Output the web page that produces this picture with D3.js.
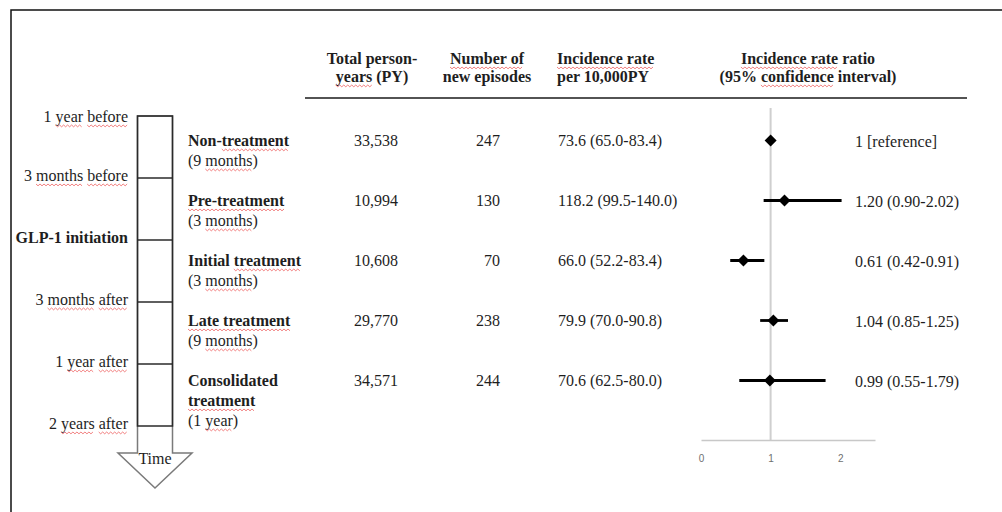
<!DOCTYPE html>
<html>
<head>
<meta charset="utf-8">
<script src="https://cdn.jsdelivr.net/npm/d3@7"></script>
<style>
  html, body { margin: 0; padding: 0; background: #fff; }
  svg { display: block; }
  text { white-space: pre; }
</style>
</head>
<body>
<svg id="chart" width="1002" height="512"></svg>
<script>
// Time points along the follow-up arrow
const timepoints = ["1 year before", "3 months before", "GLP-1 initiation", "3 months after", "1 year after", "2 years after"];
// Exposure periods between consecutive time points
const periods = ["Non-treatment", "Pre-treatment", "Initial treatment", "Late treatment", "Consolidated treatment"];
const durations = ["(9 months)", "(3 months)", "(3 months)", "(9 months)", "(1 year)"];
// Table columns
const personYears = [33538, 10994, 10608, 29770, 34571];
const newEpisodes = [247, 130, 70, 238, 244];
const incidenceRate = [73.6, 118.2, 66.0, 79.9, 70.6];
const incidenceLo = [65.0, 99.5, 52.2, 70.0, 62.5];
const incidenceHi = [83.4, 140.0, 83.4, 90.8, 80.0];
// Incidence rate ratios with 95% CI (first period is the reference)
const irr = [1, 1.20, 0.61, 1.04, 0.99];
const irrLo = [null, 0.90, 0.42, 0.85, 0.55];
const irrHi = [null, 2.02, 0.91, 1.25, 1.79];
const irrTicks = [0, 1, 2];
// Column headings
const headers = [
  ["Total person-", "years (PY)"],
  ["Number of", "new episodes"],
  ["Incidence rate", "per 10,000PY"],
  ["Incidence rate ratio", "(95% confidence interval)"]
];

const serif = "'Liberation Serif', 'Times New Roman', serif";
const ink = "#1e1e1e";
const svg = d3.select("#chart");

svg.append("rect").attr("width", 1002).attr("height", 512).attr("fill", "#fff");

// Outer frame (top and left edges)
svg.append("path")
  .attr("d", "M11,512V10H1002")
  .attr("fill", "none").attr("stroke", "#111").attr("stroke-width", 1.5);

// Words that carry a wavy red underline
const flagged = /(Pre-treatment|Late treatment|Number of|Incidence rate|treatment|months|before|after|years|year|confidence)/;

function squiggle(g, x0, x1, y) {
  let d = `M${x0},${y}`;
  let k = 0;
  for (let x = x0 + 2; x <= x1 + 0.01; x += 2, k++) {
    d += `L${x},${y + (k % 2 ? 0 : 1.8)}`;
  }
  g.append("path").attr("d", d).attr("fill", "none")
    .attr("stroke", "#ef6a6a").attr("stroke-width", 1).attr("opacity", 0.85);
}

function label(g, x, y, str, opts = {}) {
  const t = g.append("text")
    .attr("x", x).attr("y", y)
    .attr("text-anchor", opts.anchor || "start")
    .attr("font-family", serif)
    .attr("font-size", opts.size || 16)
    .attr("font-weight", opts.bold ? "bold" : "normal")
    .attr("fill", ink);
  const marks = [];
  str.split(flagged).forEach((part, i) => {
    if (!part) return;
    const ts = t.append("tspan").text(part);
    if (i % 2 === 1 && !opts.plain) marks.push(ts.node());
  });
  marks.forEach(n => {
    const len = n.getNumberOfChars();
    const x0 = n.getStartPositionOfChar(0).x;
    const x1 = n.getEndPositionOfChar(len - 1).x;
    squiggle(g, x0, x1, y + 3);
  });
  return t;
}

// ---------- Timeline arrow ----------
const tl = svg.append("g");
const yTime = d3.scalePoint().domain(timepoints).range([116, 426]);
const shaftL = 137.5, shaftR = 172.5, shaftEnd = 453, headHalf = 37, apex = 488;
const midX = (shaftL + shaftR) / 2;

tl.append("path")
  .attr("d", `M${shaftL},${yTime(timepoints[0])}H${shaftR}V${shaftEnd}H${midX + headHalf}L${midX},${apex}L${midX - headHalf},${shaftEnd}H${shaftL}Z`)
  .attr("fill", "none").attr("stroke", "#7a7a7a").attr("stroke-width", 1.5);

tl.append("rect")
  .attr("x", shaftL).attr("y", yTime(timepoints[0]))
  .attr("width", shaftR - shaftL)
  .attr("height", yTime(timepoints[timepoints.length - 1]) - yTime(timepoints[0]))
  .attr("fill", "none").attr("stroke", "#2a2a2a").attr("stroke-width", 1.5);

tl.selectAll("line.div")
  .data(timepoints.slice(1, -1))
  .join("line").attr("class", "div")
  .attr("x1", shaftL).attr("x2", shaftR)
  .attr("y1", d => yTime(d)).attr("y2", d => yTime(d))
  .attr("stroke", "#2a2a2a").attr("stroke-width", 1.5);

timepoints.forEach((tp, i) => {
  label(tl, 128, yTime(tp) + (i === 0 ? 6 : 3), tp, { anchor: "end", bold: tp.startsWith("GLP") });
});

label(tl, midX, 464, "Time", { anchor: "middle" });

// ---------- Rows ----------
const yRow = d3.scalePoint().domain(periods).range([146, 386]);

function wrapWords(text, maxWidth) {
  const probe = svg.append("text").attr("font-family", serif)
    .attr("font-size", 16).attr("font-weight", "bold");
  const words = text.split(" ");
  const lines = [];
  let cur = "";
  words.forEach(w => {
    const test = cur ? cur + " " + w : w;
    probe.text(test);
    if (cur && probe.node().getComputedTextLength() > maxWidth) {
      lines.push(cur); cur = w;
    } else cur = test;
  });
  lines.push(cur);
  probe.remove();
  return lines;
}

const rows = svg.append("g");
const fmtInt = d3.format(",");
const fmt1 = d3.format(".1f");
const fmt2 = d3.format(".2f");

periods.forEach((p, i) => {
  const y = yRow(p);
  const lines = wrapWords(p, 120);
  lines.forEach((ln, j) => label(rows, 188, y + j * 20, ln, { bold: true }));
  label(rows, 188, y + lines.length * 20, durations[i]);

  label(rows, 398, y, fmtInt(personYears[i]), { anchor: "end" });
  label(rows, 500, y, String(newEpisodes[i]), { anchor: "end" });
  label(rows, 558, y, `${fmt1(incidenceRate[i])} (${fmt1(incidenceLo[i])}-${fmt1(incidenceHi[i])})`);
  const irrText = irrLo[i] == null
    ? `${irr[i]} [reference]`
    : `${fmt2(irr[i])} (${fmt2(irrLo[i])}-${fmt2(irrHi[i])})`;
  label(rows, 855, y + 1, irrText);
});

// ---------- Headers ----------
const head = svg.append("g");
const headerCols = [
  { x: 372, anchor: "middle" },
  { x: 487, anchor: "middle" },
  { x: 557, anchor: "start" },
  { x: 808, anchor: "middle" }
];
headers.forEach((lines, c) => {
  lines.forEach((ln, j) => label(head, headerCols[c].x, 64 + j * 18, ln, { anchor: headerCols[c].anchor, bold: true }));
});
head.append("line").attr("x1", 305).attr("x2", 967).attr("y1", 98).attr("y2", 98)
  .attr("stroke", "#1a1a1a").attr("stroke-width", 1.5);

// ---------- Forest plot ----------
const xIRR = d3.scaleLinear().domain([0, 2.5]).range([701, 875]);
const forest = svg.append("g");
const axisY = 440;

forest.append("line")
  .attr("x1", xIRR(1)).attr("x2", xIRR(1))
  .attr("y1", 108).attr("y2", axisY)
  .attr("stroke", "#cfcfcf").attr("stroke-width", 2);

const axis = forest.append("g")
  .attr("transform", `translate(0,${axisY})`)
  .call(d3.axisBottom(xIRR).tickValues(irrTicks).tickSize(0).tickPadding(15).tickFormat(d3.format("d")));
axis.select(".domain").attr("stroke", "#c8c8c8").attr("stroke-width", 1.5);
axis.selectAll("text")
  .attr("font-family", "'Liberation Sans', Arial, sans-serif")
  .attr("font-size", 10).attr("fill", "#6f6f6f");

const markY = p => yRow(p) - 5.5;

forest.selectAll("line.ci")
  .data(periods.map((p, i) => ({ p, lo: irrLo[i], hi: irrHi[i] })).filter(d => d.lo != null))
  .join("line").attr("class", "ci")
  .attr("x1", d => xIRR(d.lo)).attr("x2", d => xIRR(d.hi))
  .attr("y1", d => markY(d.p)).attr("y2", d => markY(d.p))
  .attr("stroke", "#000").attr("stroke-width", 2.8);

forest.selectAll("path.pt")
  .data(periods.map((p, i) => ({ p, v: irr[i] })))
  .join("path").attr("class", "pt")
  .attr("d", d3.symbol(d3.symbolSquare, 72))
  .attr("transform", d => `translate(${xIRR(d.v)},${markY(d.p)}) rotate(45)`)
  .attr("fill", "#000");
</script>
</body>
</html>
